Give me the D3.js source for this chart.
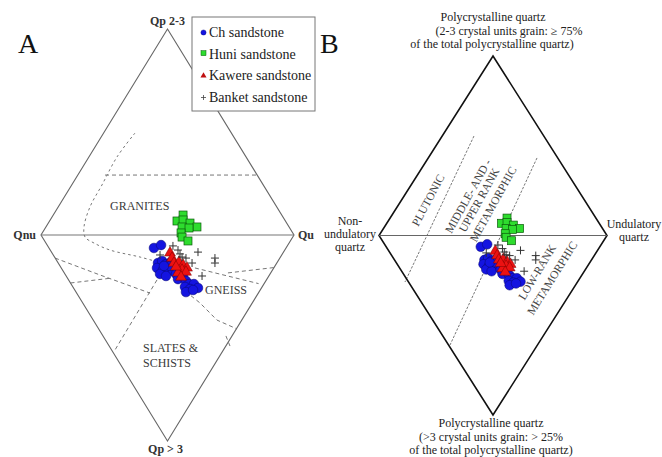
<!DOCTYPE html>
<html>
<head>
<meta charset="utf-8">
<script src="https://cdn.jsdelivr.net/npm/d3@7"></script>
<style>
  body { margin: 0; background: #fff; }
</style>
</head>
<body>
<div id="chart" width="662" height="457"></div>
<script>
// 凡例の名前
const series_names = ["Ch sandstone", "Huni sandstone", "Kawere sandstone", "Banket sandstone"];

// 点データ（菱形座標: x -1=Qnu .. 1=Qu, y 1=Qp 2-3 .. -1=Qp>3）
const ch_points = [
    [-0.107,-0.063],[-0.051,-0.049],[-0.075,-0.136],[-0.043,-0.126],[-0.012,-0.141],
    [0.028,-0.131],[-0.083,-0.160],[-0.036,-0.170],[0.004,-0.160],[0.043,-0.175],
    [-0.059,-0.189],[-0.012,-0.199],[0.067,-0.189],[0.099,-0.180],[0.083,-0.214],
    [0.123,-0.204],[0.146,-0.223],[0.170,-0.238],[0.209,-0.238],[0.241,-0.257],
    [0.138,-0.252],[0.178,-0.262],[0.146,-0.277],[0.202,-0.267],[0.020,-0.150],
    [-0.028,-0.150]
];
const huni_points = [
    [0.123,0.097],[0.075,0.068],[0.123,0.073],[0.178,0.058],[0.115,0.039],
    [0.233,0.039],[0.170,0.034],[0.107,0.010],[0.115,-0.010],[0.162,-0.029]
];
const kawere_points = [
    [0.020,-0.087],[0.036,-0.112],[0.051,-0.136],[0.091,-0.131],[0.123,-0.146],
    [0.154,-0.160],[0.115,-0.170],[0.146,-0.180],[0.083,-0.184],[0.107,-0.204],
    [0.067,-0.155]
];
const banket_points = [
    [0.043,-0.053],[0.083,-0.073],[0.099,-0.092],[0.115,-0.107],[-0.059,-0.097],
    [0.241,-0.083],[0.194,-0.136],[0.375,-0.112],[0.375,-0.136],[0.273,-0.199],
    [0.146,-0.112]
];

// A図の境界線（同じ菱形座標）
const a_curve = [[-0.257,0.495],[-0.399,0.379],[-0.518,0.243],[-0.613,0.136],[-0.660,0.039],
    [-0.652,-0.010],[-0.581,-0.039],[-0.455,-0.073],[-0.217,-0.107],[-0.075,-0.131]];
const a_lines = [
    [[-0.494,0.291],[0.709,0.291]],
    [[-0.889,-0.112],[-0.534,-0.194],[-0.138,-0.282]],
    [[-0.767,-0.233],[-0.44,-0.209]],
    [[-0.083,-0.218],[-0.415,-0.558]],
    [[0.217,-0.160],[0.72,-0.236]],
    [[0.478,-0.184],[0.842,-0.158]],
    [[0.099,-0.252],[0.257,-0.330],[0.391,-0.413],[0.549,-0.456]],
    [[0.462,-0.490],[0.494,-0.539]]
];
// B図の境界線
const b_lines = [
    [[-0.167,0.554],[-0.772,-0.259]],
    [[0.386,0.432],[-0.377,-0.610]]
];

// 頂点ラベル
const a_vertex_labels = ["Qp 2-3", "Qnu", "Qu", "Qp > 3"];
const b_top_label = ["Polycrystalline quartz", "(2-3 crystal units grain: \u2265 75%", "of the total polycrystalline quartz)"];
const b_bottom_label = ["Polycrystalline quartz", "(>3 crystal units grain: > 25%", "of the total polycrystalline quartz)"];
const b_left_label = ["Non-", "undulatory", "quartz"];
const b_right_label = ["Undulatory", "quartz"];

const serif = "'Liberation Serif', 'DejaVu Serif', serif";

const svg = d3.select("#chart").append("svg")
    .attr("width", 662)
    .attr("height", 457)
    .attr("font-family", serif)
    .style("font-family", serif);

function draw_markers(g, x, y){
    /* 4系列の点を描く */
    g.selectAll("circle.ch")
        .data(ch_points).enter().append("circle")
        .attr("class", "ch")
        .attr("cx", d => x(d[0])).attr("cy", d => y(d[1]))
        .attr("r", 4.8)
        .attr("fill", "#1414e0").attr("stroke", "#0a0a80").attr("stroke-width", 0.6);
    g.selectAll("rect.huni")
        .data(huni_points).enter().append("rect")
        .attr("class", "huni")
        .attr("x", d => x(d[0]) - 4).attr("y", d => y(d[1]) - 4)
        .attr("width", 8).attr("height", 8)
        .attr("fill", "#2edc2e").attr("stroke", "#0b5a0b").attr("stroke-width", 0.7);
    g.selectAll("path.kawere")
        .data(kawere_points).enter().append("path")
        .attr("class", "kawere")
        .attr("d", d3.symbol().type(d3.symbolTriangle).size(52))
        .attr("transform", d => "translate(" + x(d[0]) + "," + y(d[1]) + ")")
        .attr("fill", "#ec1212").attr("stroke", "#7a0000").attr("stroke-width", 0.5);
    g.selectAll("path.banket")
        .data(banket_points).enter().append("path")
        .attr("class", "banket")
        .attr("d", "M-4,0H4M0,-4V4")
        .attr("transform", d => "translate(" + x(d[0]) + "," + y(d[1]) + ")")
        .attr("fill", "none").attr("stroke", "#333").attr("stroke-width", 1);
}

function draw_frame(g, x, y, edge_color, edge_width, mid_color){
    /* 菱形の枠と中央の水平線 */
    const corners = [[0,1],[1,0],[0,-1],[-1,0]];
    g.append("path")
        .attr("d", d3.line().x(d => x(d[0])).y(d => y(d[1]))(corners) + "Z")
        .attr("fill", "none")
        .attr("stroke", edge_color)
        .attr("stroke-width", edge_width);
    g.append("line")
        .attr("x1", x(-1)).attr("y1", y(0))
        .attr("x2", x(1)).attr("y2", y(0))
        .attr("stroke", mid_color)
        .attr("stroke-width", 1.1);
}

function multi_text(g, lines, cx, y0, dy, size, anchor){
    g.selectAll(null).data(lines).enter().append("text")
        .text(d => d)
        .attr("x", (d, i) => Array.isArray(cx) ? cx[i] : cx)
        .attr("y", (d, i) => y0 + i*dy)
        .attr("text-anchor", anchor || "middle")
        .attr("font-size", size)
        .attr("fill", "#222");
}

// ---------------- A図 ----------------
const xa = d3.scaleLinear().domain([-1, 1]).range([41, 294]);
const ya = d3.scaleLinear().domain([-1, 1]).range([441, 29]);
const ga = svg.append("g").attr("id", "panel_a");

// 境界線
const line_a = d3.line().x(d => xa(d[0])).y(d => ya(d[1]));
ga.append("path")
    .attr("d", d3.line().curve(d3.curveCatmullRom).x(d => xa(d[0])).y(d => ya(d[1]))(a_curve))
    .attr("fill", "none").attr("stroke", "#777").attr("stroke-width", 1)
    .attr("stroke-dasharray", "2.5,3");
ga.selectAll("path.bound")
    .data(a_lines).enter().append("path")
    .attr("class", "bound")
    .attr("d", d => line_a(d))
    .attr("fill", "none").attr("stroke", "#777").attr("stroke-width", 1)
    .attr("stroke-dasharray", "4,3");

draw_frame(ga, xa, ya, "#666", 1.1, "#777");

// フィールド名
const field_style = function(t){ t.attr("font-size", 12).attr("fill", "#3a3a3a"); };
ga.append("text").text("GRANITES").attr("x", 110).attr("y", 210).call(field_style);
ga.append("text").text("GNEISS").attr("x", 205).attr("y", 294).call(field_style);
ga.append("text").text("SLATES &").attr("x", 143).attr("y", 352).call(field_style);
ga.append("text").text("SCHISTS").attr("x", 143).attr("y", 367).call(field_style);

draw_markers(ga, xa, ya);

// 頂点ラベル
const vstyle = function(t){ t.attr("font-size", 12).attr("font-weight", "bold").attr("fill", "#333"); };
ga.append("text").text(a_vertex_labels[0]).attr("x", xa(0)).attr("y", 25).attr("text-anchor", "middle").call(vstyle);
ga.append("text").text(a_vertex_labels[1]).attr("x", xa(-1) - 5).attr("y", ya(0) + 4).attr("text-anchor", "end").call(vstyle);
ga.append("text").text(a_vertex_labels[2]).attr("x", xa(1) + 4).attr("y", ya(0) + 4).call(vstyle);
ga.append("text").text(a_vertex_labels[3]).attr("x", xa(0) - 2).attr("y", 453).attr("text-anchor", "middle").call(vstyle);

ga.append("text").text("A").attr("x", 18).attr("y", 53).attr("font-size", 28).attr("fill", "#111");

// 凡例
const lg = ga.append("g").attr("id", "legend");
lg.append("rect")
    .attr("x", 192).attr("y", 17).attr("width", 123).attr("height", 94)
    .attr("fill", "#fff").attr("stroke", "#777").attr("stroke-width", 1);
const legend_y = d3.scalePoint().domain(series_names).range([37, 102]);
lg.selectAll("text.lg")
    .data(series_names).enter().append("text")
    .attr("class", "lg")
    .text(d => d)
    .attr("x", 209)
    .attr("y", d => legend_y(d))
    .attr("font-size", 14)
    .attr("fill", "#222");
lg.append("circle").attr("cx", 203.5).attr("cy", legend_y(series_names[0]) - 4.5).attr("r", 2.6)
    .attr("fill", "#1414e0").attr("stroke", "#0a0a80").attr("stroke-width", 0.4);
lg.append("rect").attr("x", 201).attr("y", legend_y(series_names[1]) - 8).attr("width", 5).attr("height", 5)
    .attr("fill", "#2edc2e").attr("stroke", "#0b5a0b").attr("stroke-width", 0.5);
lg.append("path").attr("d", d3.symbol().type(d3.symbolTriangle).size(16))
    .attr("transform", "translate(203.5," + (legend_y(series_names[2]) - 4.5) + ")")
    .attr("fill", "#c01010");
lg.append("path").attr("d", "M-2.5,0H2.5M0,-2.5V2.5")
    .attr("transform", "translate(203.5," + (legend_y(series_names[3]) - 4.5) + ")")
    .attr("stroke", "#444").attr("stroke-width", 0.8);

// ---------------- B図 ----------------
const xb = d3.scaleLinear().domain([-1, 1]).range([379, 607]);
const yb = d3.scaleLinear().domain([-1, 1]).range([415, 56]);
const gb = svg.append("g").attr("id", "panel_b");

const line_b = d3.line().x(d => xb(d[0])).y(d => yb(d[1]));
gb.selectAll("path.bound")
    .data(b_lines).enter().append("path")
    .attr("class", "bound")
    .attr("d", d => line_b(d))
    .attr("fill", "none").attr("stroke", "#666").attr("stroke-width", 0.9)
    .attr("stroke-dasharray", "2.5,1.5");

draw_frame(gb, xb, yb, "#111", 1.6, "#666");

// 回転したフィールド名
function rot_text(g, txt, cx, cy, angle){
    g.append("text").text(txt)
        .attr("transform", "translate(" + cx + "," + cy + ") rotate(" + angle + ")")
        .attr("text-anchor", "middle")
        .attr("dy", "0.35em")
        .attr("font-size", 11.5)
        .attr("fill", "#444");
}
rot_text(gb, "PLUTONIC", 428, 200, -62);
rot_text(gb, "MIDDLE- AND -", 468, 196, -61);
rot_text(gb, "UPPER RANK", 479, 200, -61);
rot_text(gb, "METAMORPHIC", 493, 204, -61);
rot_text(gb, "LOW-RANK", 537, 272, -59);
rot_text(gb, "METAMORPHIC", 552, 278, -58);

draw_markers(gb, xb, yb);

multi_text(gb, b_top_label, [493, 509, 492], 21, 13.5, 12);
multi_text(gb, b_bottom_label, 491, 427, 13.5, 12);
multi_text(gb, b_left_label, 350, 225, 13, 12);
multi_text(gb, b_right_label, 634, 228, 12.5, 12);

gb.append("text").text("B").attr("x", 320).attr("y", 53).attr("font-size", 28).attr("fill", "#111");
</script>
</body>
</html>
